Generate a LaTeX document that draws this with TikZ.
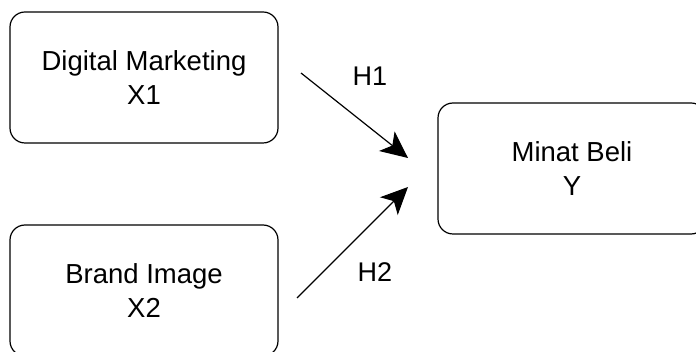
\documentclass[tikz,border=0pt]{standalone}
\usepackage{fontspec}
\setmainfont{Liberation Sans}
\usepackage{tikz}
\usetikzlibrary{arrows.meta}

\begin{document}
\begin{tikzpicture}[x=1pt,y=-1pt,
    varbox/.style={draw, line width=1.2pt, rounded corners=15pt, minimum width=268pt,
        minimum height=131pt, align=center, font=\fontsize{27.5}{34.5}\selectfont},
    hlabel/.style={font=\fontsize{27}{34}\selectfont},
    hyp/.style={line width=1.2pt, -{Stealth[length=27pt,width=25pt,inset=7pt]}}]
        % canvas
        \useasboundingbox (0,0) rectangle (696,352);
        % variables
        \node[varbox] (x1) at (144,77.5) {Digital Marketing\\X1};
        \node[varbox] (x2) at (144,290.5) {Brand Image\\X2};
        \node[varbox] (y) at (572,168.5) {Minat Beli\\Y};
        % arrow ends
        \coordinate (h1s) at (301,73);
        \coordinate (h1e) at (408,158);
        \coordinate (h2s) at (297,298);
        \coordinate (h2e) at (408,187);
        \draw[hyp] (h1s) -- (h1e);
        \draw[hyp] (h2s) -- (h2e);
        \node[hlabel] (h1) at (370,76) {H1};
        \node[hlabel] (h2) at (375,272.5) {H2};
    \end{tikzpicture}
\end{document}
